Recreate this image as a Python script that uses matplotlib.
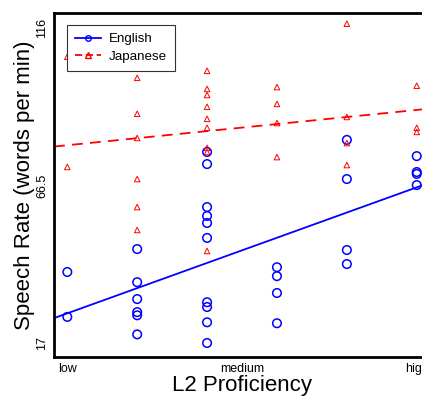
import matplotlib
matplotlib.use("Agg")
import matplotlib.pyplot as plt
import numpy as np

plt.rcParams['font.family'] = ['Liberation Sans', 'DejaVu Sans']

# proficiency level (1 = low ... 6 = high) and speech rate
eng_x = [1, 1,
         2, 2, 2, 2, 2, 2,
         3, 3, 3, 3, 3, 3, 3, 3, 3, 3,
         4, 4, 4, 4,
         5, 5, 5, 5,
         6, 6, 6, 6]
eng_y = [39.3, 25.2,
         46.5, 36.1, 30.8, 26.7, 25.7, 19.7,
         77.0, 73.2, 59.7, 56.9, 54.7, 50.0, 29.8, 28.3, 23.5, 17.0,
         40.8, 38.0, 32.7, 23.2,
         80.8, 68.5, 46.2, 41.8,
         75.7, 70.7, 70.1, 66.6]

jap_x = [1, 1,
         2, 2, 2, 2, 2, 2,
         3, 3, 3, 3, 3, 3, 3, 3, 3,
         4, 4, 4, 4,
         5, 5, 5, 5,
         6, 6, 6]
jap_y = [106.9, 72.3,
         100.3, 89.0, 81.4, 68.5, 59.7, 52.5,
         102.5, 96.8, 94.9, 91.2, 87.4, 84.6, 78.3, 77.0, 45.9,
         97.4, 92.1, 86.1, 75.4,
         117.3, 88.0, 79.8, 72.9,
         97.8, 84.6, 83.3]

tick_pos = [1, 3.5, 6]
tick_lab = ['low', 'medium', 'high']
ytick_pos = [17, 66.5, 116]

fig = plt.figure(figsize=(4.22, 3.96), dpi=100)
ax = fig.add_axes([0.128, 0.0985, 0.891, 0.869])

xlim = (0.81, 6.19)
xs = np.array(xlim)

# fitted lines
b_e = np.polyfit(eng_x, eng_y, 1)
b_j = np.polyfit(jap_x, jap_y, 1)
ax.plot(xs, np.polyval(b_e, xs), color='blue', lw=1.3, zorder=2)
ax.plot(xs, np.polyval(b_j, xs), color='red', lw=1.3, ls=(0, (6, 4)), zorder=2)

ax.scatter(eng_x, eng_y, s=38, facecolors='none', edgecolors='blue', linewidths=1.1, zorder=3)
ax.scatter(jap_x, jap_y, marker='^', s=16, facecolors='none', edgecolors='red', linewidths=0.7, zorder=3)

# legend proxies
ax.plot([], [], color='blue', lw=1.3, marker='o', ms=4, mfc='none', label='English')
ax.plot([], [], color='red', lw=1.3, ls=(0, (4, 2)), marker='^', ms=5, mfc='none', label='Japanese')
leg = ax.legend(loc='upper left', bbox_to_anchor=(0.035, 0.965), fontsize=9.6,
                fancybox=False, framealpha=1, edgecolor='#333333',
                handlelength=1.9, borderpad=0.6, labelspacing=0.4, handletextpad=0.6,
                borderaxespad=0)
leg.get_frame().set_linewidth(0.8)

ax.set_xlim(*xlim)
ax.set_ylim(12.6, 120.7)
ax.set_xticks(tick_pos)
ax.set_xticklabels(tick_lab, fontsize=9)
ax.set_yticks(ytick_pos)
ax.set_yticklabels(['17', '66.5', '116'], fontsize=9, rotation=90, va='center')
ax.tick_params(length=0, pad=4)

for s in ax.spines.values():
    s.set_linewidth(2)

ax.set_xlabel('L2 Proficiency', fontsize=16, labelpad=0)
ax.set_ylabel('Speech Rate (words per min)', fontsize=16, labelpad=1)

fig.savefig('out.png', dpi=100)
